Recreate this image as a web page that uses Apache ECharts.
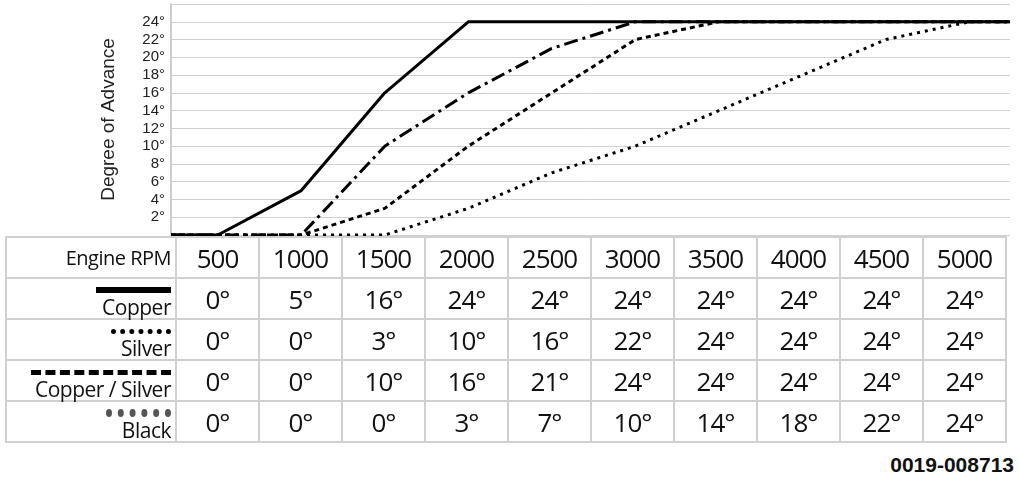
<!DOCTYPE html>
<html><head><meta charset="utf-8">
<script src="https://cdn.jsdelivr.net/npm/echarts@6/dist/echarts.min.js"></script>
<style>
body{margin:0;background:#fff;font-family:'Open Sans',sans-serif;}
#c{position:absolute;left:0;top:0;width:1019px;height:240px;}
table{position:absolute;left:5px;top:236px;border-collapse:collapse;table-layout:fixed;}
td{border:2px solid #d0d0d0;height:38px;padding:0;text-align:center;font-size:26px;letter-spacing:-1px;color:#111;font-family:'Open Sans',sans-serif;}
td.l{width:164px;text-align:right;padding-right:4px;font-size:21px;letter-spacing:-0.5px;line-height:19px;vertical-align:bottom;padding-bottom:1px;}
td.v{width:81px;}
.s{display:inline-block;width:70px;height:0;margin-bottom:3px;}
#ft{position:absolute;right:5px;top:453px;font:bold 21px 'Liberation Sans',Arial,sans-serif;color:#111;}
</style></head><body>
<div id="c"></div>
<table id="t"></table>
<div id="ft">0019-008713</div>
<script>
const rpm=[500,1000,1500,2000,2500,3000,3500,4000,4500,5000];
const copper=[0,5,16,24,24,24,24,24,24,24];
const silver=[0,0,3,10,16,22,24,24,24,24];
const copperSilver=[0,0,10,16,21,24,24,24,24,24];
const black=[0,0,0,3,7,10,14,18,22,24];
const yTicks=[2,4,6,8,10,12,14,16,18,20,22,24];
const names=['Copper','Silver','Copper / Silver','Black'];
const XMIN=220,XMAX=5243;
const all=[copper,silver,copperSilver,black];
const styles=[
 {type:'solid',width:3},
 {type:[5,4],width:3},
 {type:[14,5,3,5],width:3},
 {type:[3,5],width:3}];
const samples=['border-top:6px solid #000;width:75px','border-top:5px dotted #000;width:60px','border-top:5px dashed #000;width:140px','border-top:6px dotted #555;width:65px;transform:scaleY(1.3)'];
const ch=echarts.init(document.getElementById('c'));
ch.setOption({
 animation:false,
 grid:{left:171,right:9,top:4,bottom:5},
 xAxis:{type:'value',min:XMIN,max:XMAX,show:false},
 yAxis:{type:'value',min:0,max:26,interval:2,
  name:'Degree of Advance',nameLocation:'middle',nameGap:53,
  nameTextStyle:{fontSize:19,color:'#222',fontFamily:'Liberation Sans'},
  axisLine:{show:true,lineStyle:{color:'#ccc',width:2}},axisTick:{show:false},
  splitLine:{lineStyle:{color:'#d0d0d0',width:1}},
  axisLabel:{color:'#222',fontSize:15,fontFamily:'Liberation Sans',margin:6,
   formatter:v=>yTicks.includes(v)?v+'°':''}},
 series:all.map((d,i)=>({type:'line',name:names[i],symbol:'none',
  lineStyle:{color:'#000',...styles[i]},
  data:[[XMIN,0]].concat(rpm.map((r,j)=>[r,d[j]])).concat([[XMAX,d[d.length-1]]])}))
});
let h='<tr><td class="l" style="vertical-align:middle;font-size:20px">Engine RPM</td>'+rpm.map(r=>'<td class="v">'+r+'</td>').join('')+'</tr>';
all.forEach((d,i)=>{
 h+='<tr><td class="l"><span class="s" style="'+samples[i]+'"></span><br>'+names[i]+'</td>'+d.map(v=>'<td class="v">'+v+'°</td>').join('')+'</tr>';
});
document.getElementById('t').innerHTML=h;
</script></body></html>
